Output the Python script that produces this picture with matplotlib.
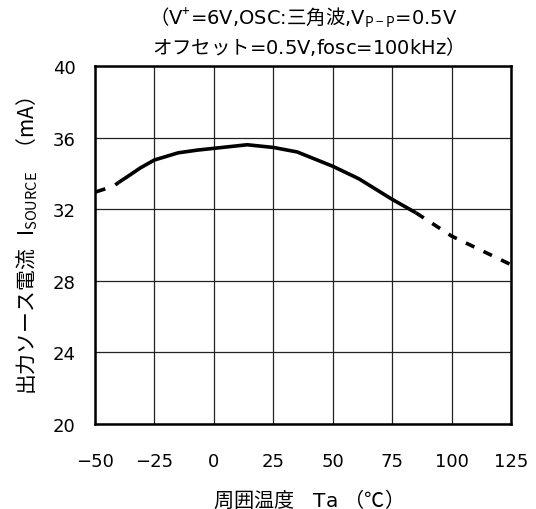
import numpy as np
import matplotlib.pyplot as plt

plt.rcParams['font.family'] = ['DejaVu Sans', 'Noto Sans CJK JP']
plt.rcParams['mathtext.fontset'] = 'custom'
plt.rcParams['mathtext.rm'] = 'Noto Sans CJK JP'
plt.rcParams['mathtext.it'] = 'Noto Sans CJK JP'
plt.rcParams['mathtext.bf'] = 'Noto Sans CJK JP'

# ambient temperature (degC) and source current (mA)
temp = np.array([-50, -42, -40, -36, -31, -25, -15, -7, 0, 14, 25, 35, 50, 61, 75, 85, 100, 125])
isource = np.array([32.95, 33.3, 33.5, 33.85, 34.3, 34.75, 35.15, 35.3, 35.4, 35.6, 35.45,
                    35.2, 34.4, 33.7, 32.55, 31.8, 30.5, 28.9])

xticks = [-50, -25, 0, 25, 50, 75, 100, 125]
yticks = [20, 24, 28, 32, 36, 40]

fig = plt.figure(figsize=(5.36, 5.10), dpi=100)
ax = fig.add_axes([95/536, 85/510, 416/536, 358/510])

solid = (temp >= -40) & (temp <= 85)
left = temp <= -40
right = temp >= 85
ax.plot(temp[solid], isource[solid], color='black', lw=2.6, solid_capstyle='butt')
ax.plot(temp[left], isource[left], color='black', lw=2.6, dashes=(3, 3), dash_capstyle='butt')
ax.plot(temp[right], isource[right], color='black', lw=2.6, dashes=(2.6, 2.8), dash_capstyle='butt')

ax.set_xlim(-50, 125)
ax.set_ylim(20, 40)
ax.set_xticks(xticks)
ax.set_yticks(yticks)
ax.grid(True, color='#222222', lw=0.9)
ax.tick_params(length=0, labelsize=13)
ax.tick_params(axis='x', pad=20)
ax.tick_params(axis='y', pad=14)
for s in ax.spines.values():
    s.set_linewidth(1.8)

ax.set_xlabel('$\\mathrm{周囲温度}$   Ta $\\mathrm{（℃）}$', fontsize=14.5, labelpad=12)
ax.set_ylabel('$\\mathrm{出力ソース電流}$  I$_{\\mathrm{SOURCE}}$  $\\mathrm{（mA）}$',
              fontsize=15, labelpad=9)

fig.text(303/536, 1 - 18/510,
         '$\\mathrm{（}$V$^{+}$=6V,OSC:$\\mathrm{三角波}$,V$_{\\mathrm{P-P}}$=0.5V',
         ha='center', va='center', fontsize=14)
fig.text(303/536, 1 - 47/510, '$\\mathrm{オフセット}$=0.5V,fosc=100kHz$\\mathrm{）}$',
         ha='center', va='center', fontsize=14)

fig.savefig('out.png', dpi=100)
